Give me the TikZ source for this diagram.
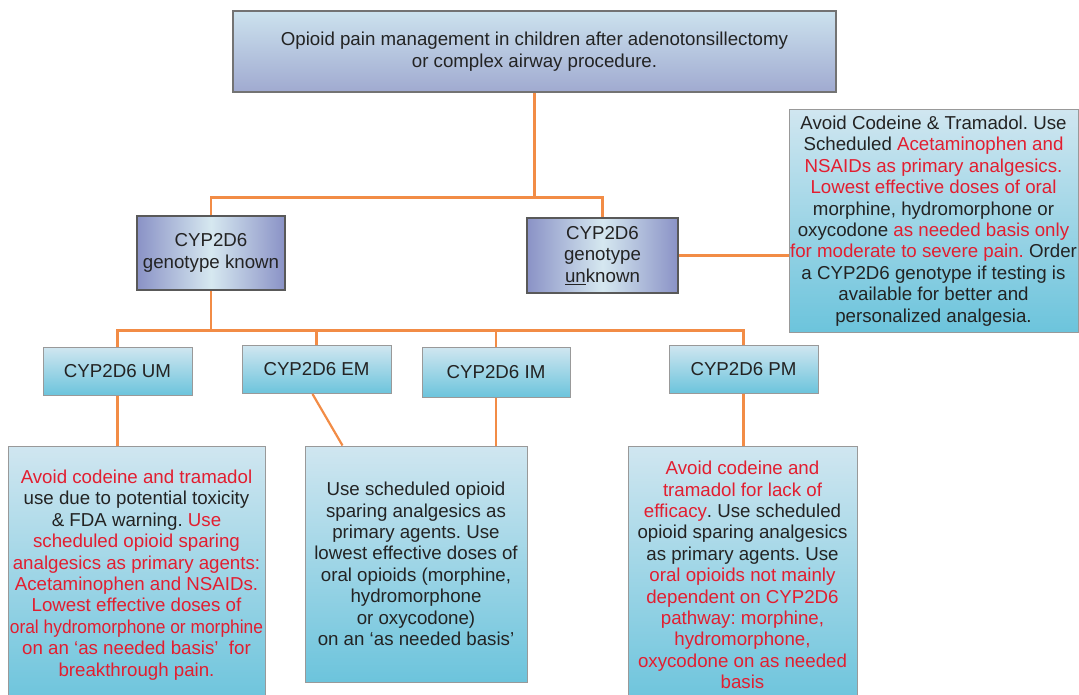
\documentclass[tikz,border=0pt]{standalone}
\usepackage{graphicx}
\usepackage{fontspec}
\setmainfont{Liberation Sans}
\frenchspacing

\definecolor{linkorange}{RGB}{242,140,70}
\definecolor{alertred}{RGB}{226,30,48}
\definecolor{bodygray}{RGB}{35,35,35}
\definecolor{lavtop}{RGB}{204,226,238}
\definecolor{lavbot}{RGB}{160,170,208}
\definecolor{genedge}{RGB}{138,146,198}
\definecolor{genmid}{RGB}{214,232,240}
\definecolor{cyantop}{RGB}{208,230,240}
\definecolor{cyanbot}{RGB}{108,196,220}

\newcommand{\warn}[1]{\textcolor{alertred}{#1}}

\tikzset{
  txt/.style={font=\fontsize{18.7}{21.4}\selectfont, text=bodygray, align=center, inner sep=0pt},
  topbox/.style={txt, draw=black!55, line width=1.2pt, top color=lavtop, bottom color=lavbot},
  genebox/.style={txt, draw=black!65, line width=2pt, left color=genedge, right color=genedge, middle color=genmid},
  cyanbox/.style={txt, draw=black!40, line width=1pt, top color=cyantop, bottom color=cyanbot},
  link/.style={draw=linkorange, line width=2.2pt},
}

\begin{document}
\begin{tikzpicture}[x=1pt,y=-1pt]
    \clip (0,0) rectangle (1079,695);

    \node[topbox, minimum width=603, minimum height=81] (top) at (534.5,51.5)
        {Opioid pain management in children after adenotonsillectomy\\or complex airway procedure.};

    \node[genebox, minimum width=148, minimum height=73] (known) at (211,253) {CYP2D6\\genotype known};
    \node[genebox, minimum width=151, minimum height=75] (unknown) at (602.5,255.5) {CYP2D6\\genotype\\\underline{un}known};

    \node[cyanbox, minimum width=289, minimum height=222] (advice) at (933.5,221)
        {Avoid Codeine \& Tramadol. Use\\
         Scheduled \warn{Acetaminophen and}\\
         \warn{NSAIDs as primary analgesics.}\\
         \warn{Lowest effective doses of oral}\\
         morphine, hydromorphone or\\
         oxycodone \warn{as needed basis only}\\
         \warn{for moderate to severe pain.} Order\\
         a CYP2D6 genotype if testing is\\
         available for better and\\
         personalized analgesia.};

    \node[cyanbox, minimum width=149, minimum height=48] (um) at (117.5,371) {CYP2D6 UM};
    \node[cyanbox, minimum width=149, minimum height=48] (em) at (316.5,369.5) {CYP2D6 EM};
    \node[cyanbox, minimum width=148, minimum height=50] (im) at (496,372) {CYP2D6 IM};
    \node[cyanbox, minimum width=149, minimum height=48] (pm) at (743.5,369) {CYP2D6 PM};

    \node[cyanbox, minimum width=257, minimum height=258] (umtxt) at (136.5,575)
        {\warn{Avoid codeine and tramadol}\\
         use due to potential toxicity\\
         \& FDA warning. \warn{Use}\\
         \warn{scheduled opioid sparing}\\
         \warn{analgesics as primary agents:}\\
         \warn{Acetaminophen and NSAIDs.}\\
         \warn{Lowest effective doses of}\\
         \scalebox{0.93}[1]{\warn{oral hydromorphone or morphine}}\\
         \warn{on an `as needed basis'\ \ for}\\
         \warn{breakthrough pain.}};

    \node[cyanbox, minimum width=222, minimum height=236] (emtxt) at (416,564)
        {Use scheduled opioid\\
         sparing analgesics as\\
         primary agents. Use\\
         lowest effective doses of\\
         oral opioids (morphine,\\
         hydromorphone\\
         or oxycodone)\\
         on an `as needed basis'};

    \node[cyanbox, minimum width=229, minimum height=258] (pmtxt) at (742.5,575)
        {\warn{Avoid codeine and}\\
         \warn{tramadol for lack of}\\
         \warn{efficacy}. Use scheduled\\
         opioid sparing analgesics\\
         as primary agents. Use\\
         \warn{oral opioids not mainly}\\
         \warn{dependent on CYP2D6}\\
         \warn{pathway: morphine,}\\
         \warn{hydromorphone,}\\
         \warn{oxycodone on as needed}\\
         \warn{basis}};

    \draw[link] (top.south) -- ++(0,105) coordinate (split1);
    \draw[link] (known.north) |- (split1) -| (unknown.north);
    \draw[link] (unknown.east) -- (unknown.east -| advice.west);

    \draw[link] (known.south) -- ++(0,40) coordinate (split2);
    \draw[link] (um.north) |- (split2) -| (pm.north);
    \draw[link] (em.north) -- (em.north |- split2);
    \draw[link] (im.north) -- (im.north |- split2);

    \draw[link] (um.south) -- (um.south |- umtxt.north);
    \draw[link] ([xshift=-4]em.south) -- ([xshift=38]emtxt.north west);
    \draw[link] (im.south) -- (im.south |- emtxt.north);
    \draw[link] (pm.south) -- (pm.south |- pmtxt.north);

\end{tikzpicture}
\end{document}
